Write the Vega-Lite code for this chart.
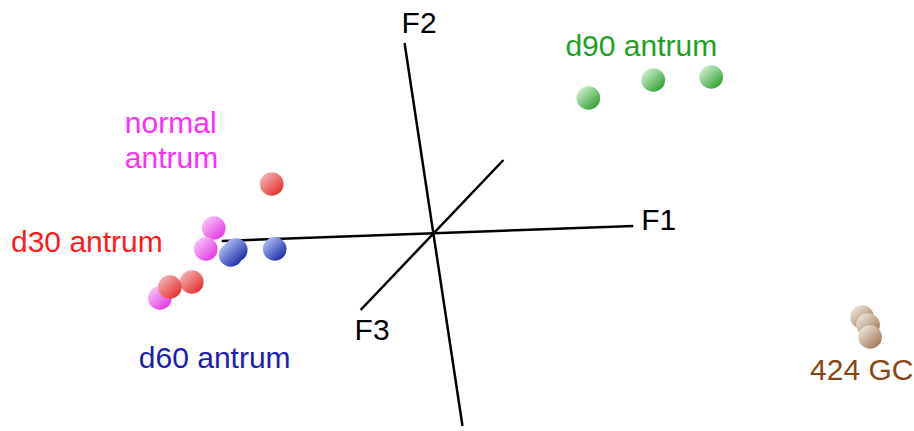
{
  "$schema": "https://vega.github.io/schema/vega-lite/v6.json",
  "autosize": {"type": "fit", "contains": "padding"},
  "width": 914,
  "height": 431,
  "padding": 0,
  "background": "white",
  "config": {"view": {"stroke": null}},
  "datasets": {
    "axes": [
      {"axis": "F1", "x": 222, "y": 241, "x2": 634, "y2": 226},
      {"axis": "F2", "x": 405, "y": 43, "x2": 463, "y2": 426},
      {"axis": "F3", "x": 361, "y": 310, "x2": 504, "y2": 160}
    ],
    "points": [
      {"group": "normal antrum", "x": 214, "y": 228},
      {"group": "normal antrum", "x": 206, "y": 249},
      {"group": "normal antrum", "x": 160, "y": 298},
      {"group": "d30 antrum", "x": 272, "y": 184},
      {"group": "d30 antrum", "x": 192, "y": 282},
      {"group": "d30 antrum", "x": 170, "y": 287},
      {"group": "d60 antrum", "x": 275, "y": 249},
      {"group": "d60 antrum", "x": 236, "y": 250},
      {"group": "d60 antrum", "x": 231, "y": 255},
      {"group": "d90 antrum", "x": 589, "y": 98},
      {"group": "d90 antrum", "x": 654, "y": 80},
      {"group": "d90 antrum", "x": 712, "y": 77},
      {"group": "424 GC", "x": 863, "y": 317},
      {"group": "424 GC", "x": 869, "y": 325},
      {"group": "424 GC", "x": 871, "y": 337}
    ],
    "labels": [
      {"text": ["normal", "antrum"], "group": "normal antrum", "x": 125, "y": 133},
      {"text": ["d30 antrum"], "group": "d30 antrum", "x": 11, "y": 252},
      {"text": ["d60 antrum"], "group": "d60 antrum", "x": 139, "y": 368},
      {"text": ["d90 antrum"], "group": "d90 antrum", "x": 566, "y": 56},
      {"text": ["424 GC"], "group": "424 GC", "x": 811, "y": 380},
      {"text": ["F1"], "group": "axis", "x": 642, "y": 230},
      {"text": ["F2"], "group": "axis", "x": 402, "y": 33},
      {"text": ["F3"], "group": "axis", "x": 355, "y": 340}
    ]
  },
  "encoding": {
    "x": {"field": "x", "type": "quantitative", "scale": {"domain": [0, 914], "nice": false, "zero": false}, "axis": null},
    "y": {"field": "y", "type": "quantitative", "scale": {"domain": [0, 431], "nice": false, "zero": false, "reverse": true}, "axis": null}
  },
  "layer": [
    {
      "data": {"name": "axes"},
      "mark": {"type": "rule", "stroke": "black", "strokeWidth": 2.5},
      "encoding": {
        "x2": {"field": "x2"},
        "y2": {"field": "y2"}
      }
    },
    {
      "data": {"name": "points"},
      "transform": [{"filter": "datum.group === 'normal antrum'"}],
      "mark": {"type": "point", "shape": "circle", "filled": true, "size": 560, "opacity": 1, "strokeWidth": 0,
        "fill": {"gradient": "linear", "x1": 0.15, "y1": 0.1, "x2": 0.9, "y2": 0.9, "stops": [{"offset": 0, "color": "#f8c4f8"}, {"offset": 1, "color": "#e232e2"}]}}
    },
    {
      "data": {"name": "points"},
      "transform": [{"filter": "datum.group === 'd30 antrum'"}],
      "mark": {"type": "point", "shape": "circle", "filled": true, "size": 560, "opacity": 1, "strokeWidth": 0,
        "fill": {"gradient": "linear", "x1": 0.15, "y1": 0.1, "x2": 0.9, "y2": 0.9, "stops": [{"offset": 0, "color": "#f2b2b2"}, {"offset": 1, "color": "#e62a2a"}]}}
    },
    {
      "data": {"name": "points"},
      "transform": [{"filter": "datum.group === 'd60 antrum'"}],
      "mark": {"type": "point", "shape": "circle", "filled": true, "size": 560, "opacity": 1, "strokeWidth": 0,
        "fill": {"gradient": "linear", "x1": 0.15, "y1": 0.1, "x2": 0.9, "y2": 0.9, "stops": [{"offset": 0, "color": "#aabcf2"}, {"offset": 1, "color": "#1a28a8"}]}}
    },
    {
      "data": {"name": "points"},
      "transform": [{"filter": "datum.group === 'd90 antrum'"}],
      "mark": {"type": "point", "shape": "circle", "filled": true, "size": 560, "opacity": 1, "strokeWidth": 0,
        "fill": {"gradient": "linear", "x1": 0.15, "y1": 0.1, "x2": 0.9, "y2": 0.9, "stops": [{"offset": 0, "color": "#cdeecd"}, {"offset": 1, "color": "#2e9e2e"}]}}
    },
    {
      "data": {"name": "points"},
      "transform": [{"filter": "datum.group === '424 GC'"}],
      "mark": {"type": "point", "shape": "circle", "filled": true, "size": 560, "opacity": 1, "strokeWidth": 0,
        "fill": {"gradient": "linear", "x1": 0.15, "y1": 0.1, "x2": 0.9, "y2": 0.9, "stops": [{"offset": 0, "color": "#eee4d8"}, {"offset": 1, "color": "#9c7454"}]}}
    },
    {
      "data": {"name": "labels"},
      "mark": {"type": "text", "align": "left", "baseline": "alphabetic", "font": "Liberation Sans", "fontSize": 30, "lineHeight": 35},
      "encoding": {
        "text": {"field": "text"},
        "color": {
          "field": "group", "type": "nominal", "legend": null,
          "scale": {
            "domain": ["normal antrum", "d30 antrum", "d60 antrum", "d90 antrum", "424 GC", "axis"],
            "range": ["#ff2cff", "#ff1a1a", "#1c1cb4", "#1f9f1f", "#8b4513", "#000000"]
          }
        }
      }
    }
  ]
}
